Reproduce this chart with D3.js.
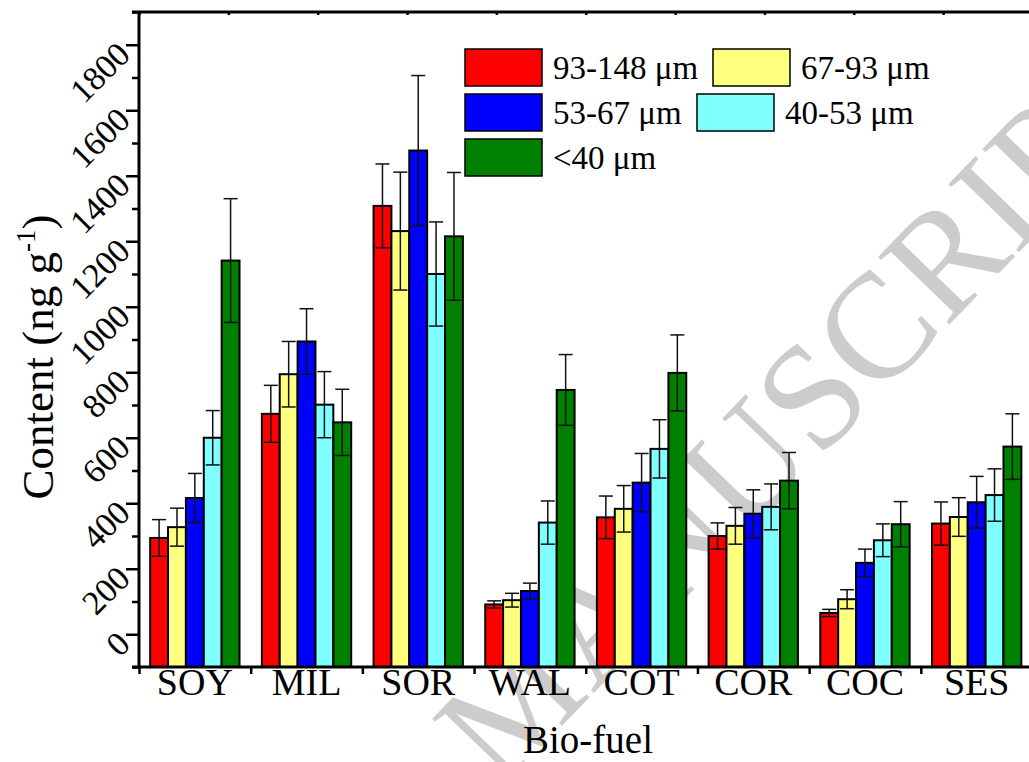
<!DOCTYPE html>
<html>
<head>
<meta charset="utf-8">
<script src="https://cdn.jsdelivr.net/npm/d3@7"></script>
<style>
body { margin: 0; background: #fff; }
text { font-family: "Liberation Serif", "Times New Roman", serif; }
</style>
</head>
<body>
<script>
// biofuel categories and size fractions
const fuels = ["SOY", "MIL", "SOR", "WAL", "COT", "COR", "COC", "SES"];
const fractions = ["93-148 μm", "67-93 μm", "53-67 μm", "40-53 μm", "<40 μm"];
const colors = ["#ff0000", "#ffff80", "#0000ff", "#80ffff", "#008000"];

// content (ng g-1)
const c93 = [294, 673, 1308, 91, 357, 300, 65, 338];
const c67 = [327, 794, 1231, 104, 383, 331, 107, 358];
const c53 = [416, 894, 1477, 132, 463, 368, 218, 403];
const c40 = [600, 701, 1100, 341, 566, 389, 287, 425];
const cLt40 = [1141, 647, 1215, 746, 798, 469, 336, 573];

// error bars
const e93 = [56, 87, 128, 11, 65, 40, 11, 66];
const e67 = [58, 100, 180, 21, 71, 56, 29, 59];
const e53 = [75, 100, 229, 24, 89, 73, 42, 79];
const e40 = [83, 101, 159, 66, 89, 70, 50, 80];
const eLt40 = [189, 101, 195, 108, 116, 86, 69, 100];

const yMajor = [0, 200, 400, 600, 800, 1000, 1200, 1400, 1600, 1800];
const yMinor = [-100, 100, 300, 500, 700, 900, 1100, 1300, 1500, 1700, 1900];

const values = [c93, c67, c53, c40, cLt40];
const errors = [e93, e67, e53, e40, eLt40];

const width = 1029, height = 762;
const pLeft = 139, pRight = 1032.5, pTop = 12, pBottom = 667;

let svg = d3.select('body')
    .append('svg')
    .attr('width', width)
    .attr('height', height);

// watermark behind everything
svg.append('text')
    .attr('transform', 'translate(500,790) rotate(-46)')
    .attr('font-size', 150)
    .attr('fill', '#cccccc')
    .text('MANUSCRIPT');

let x = d3.scaleBand()
    .domain(fuels)
    .range([pLeft, pRight])
    .paddingInner(0.2)
    .paddingOuter(0.1);

let xs = d3.scaleBand()
    .domain(d3.range(fractions.length))
    .range([0, x.bandwidth()]);

let y = d3.scaleLinear()
    .domain([-100, 1900])
    .range([pBottom, pTop]);

let rows = [];
fuels.forEach(function(f, i){
    values.forEach(function(s, j){
        rows.push({fuel: f, k: j, v: s[i], e: errors[j][i]});
    });
});

let bars = svg.append('g');
bars.selectAll('rect')
    .data(rows)
    .enter()
    .append('rect')
    .attr('x', d => x(d.fuel) + xs(d.k))
    .attr('y', d => y(d.v))
    .attr('width', xs.bandwidth())
    .attr('height', d => y(-100) - y(d.v))
    .attr('fill', d => colors[d.k])
    .attr('stroke', '#000')
    .attr('stroke-width', 2);

// error bars
let err = svg.append('g')
    .attr('stroke', '#111')
    .attr('stroke-width', 1.5);
rows.forEach(function(d){
    const cx = x(d.fuel) + xs(d.k) + xs.bandwidth() / 2;
    err.append('line')
        .attr('x1', cx).attr('x2', cx)
        .attr('y1', y(d.v + d.e)).attr('y2', y(d.v - d.e));
    [d.v + d.e, d.v - d.e].forEach(function(v){
        err.append('line')
            .attr('x1', cx - 7).attr('x2', cx + 7)
            .attr('y1', y(v)).attr('y2', y(v));
    });
});

// left axis
let yAxis = svg.append('g')
    .attr('transform', `translate(${pLeft},0)`)
    .call(d3.axisLeft(y).tickValues(yMajor).tickSize(13).tickFormat(d3.format('d')));
svg.append('g')
    .attr('transform', `translate(${pLeft},0)`)
    .call(d3.axisLeft(y).tickValues(yMinor).tickSize(7).tickFormat(''))
    .call(g => g.select('.domain').remove());
yAxis.selectAll('.tick text')
    .attr('font-size', 34)
    .attr('fill', '#000')
    .attr('x', 0)
    .attr('dy', 0)
    .attr('text-anchor', 'end')
    .attr('dominant-baseline', 'central')
    .attr('transform', 'translate(-15,3) rotate(-45)');

// bottom axis with ticks on category boundaries
let xTicks = fuels.map(f => x(f) - x.step() * x.paddingOuter());
xTicks.push(pRight);
let bx = d3.scaleLinear().domain([pLeft, pRight]).range([pLeft, pRight]);
svg.append('g')
    .attr('transform', `translate(0,${pBottom})`)
    .call(d3.axisBottom(bx).tickValues(xTicks).tickSize(7).tickFormat(''))
    .call(g => g.select('.domain').remove());
svg.append('g')
    .selectAll('text')
    .data(fuels)
    .enter()
    .append('text')
    .attr('x', d => x(d) + x.bandwidth() / 2)
    .attr('y', 695)
    .attr('text-anchor', 'middle')
    .attr('font-size', 38)
    .text(d => d);

// top axis: ten small ticks
let tx = d3.scaleLinear().domain([0, 10]).range([pLeft, pRight]);
svg.append('g')
    .attr('transform', `translate(0,${pTop})`)
    .call(d3.axisBottom(tx).ticks(10).tickSize(3).tickFormat(''))
    .call(g => g.select('.domain').remove());

// frame lines
svg.append('line').attr('x1', pLeft - 7).attr('x2', width).attr('y1', pBottom).attr('y2', pBottom)
    .attr('stroke', '#000').attr('stroke-width', 3);
svg.append('line').attr('x1', pLeft - 7).attr('x2', width).attr('y1', pTop).attr('y2', pTop)
    .attr('stroke', '#000').attr('stroke-width', 3);
svg.append('line').attr('x1', pLeft).attr('x2', pLeft).attr('y1', pTop).attr('y2', pBottom)
    .attr('stroke', '#000').attr('stroke-width', 3);
svg.selectAll('.tick line').attr('stroke', '#000').attr('stroke-width', 2.5);
yAxis.select('.domain').remove();

// axis titles
svg.append('text')
    .attr('x', 588)
    .attr('y', 753)
    .attr('text-anchor', 'middle')
    .attr('font-size', 39)
    .text('Bio-fuel');

let yt = svg.append('text')
    .attr('transform', 'translate(53,357) rotate(-90)')
    .attr('text-anchor', 'middle')
    .attr('font-size', 45);
yt.append('tspan').text('Content (ng g');
yt.append('tspan').attr('dy', -18).attr('font-size', 27).text('-1');
yt.append('tspan').attr('dy', 18).text(')');

// legend
const legendPos = [[465, 49], [713, 49], [465, 94], [697, 94], [465, 139]];
let lg = svg.append('g');
fractions.forEach(function(name, i){
    const p = legendPos[i];
    lg.append('rect')
        .attr('x', p[0]).attr('y', p[1])
        .attr('width', 77).attr('height', 37)
        .attr('fill', colors[i])
        .attr('stroke', '#000')
        .attr('stroke-width', 1.5);
    lg.append('text')
        .attr('x', p[0] + 88)
        .attr('y', p[1] + 30)
        .attr('font-size', 33)
        .text(name);
});
</script>
</body>
</html>
